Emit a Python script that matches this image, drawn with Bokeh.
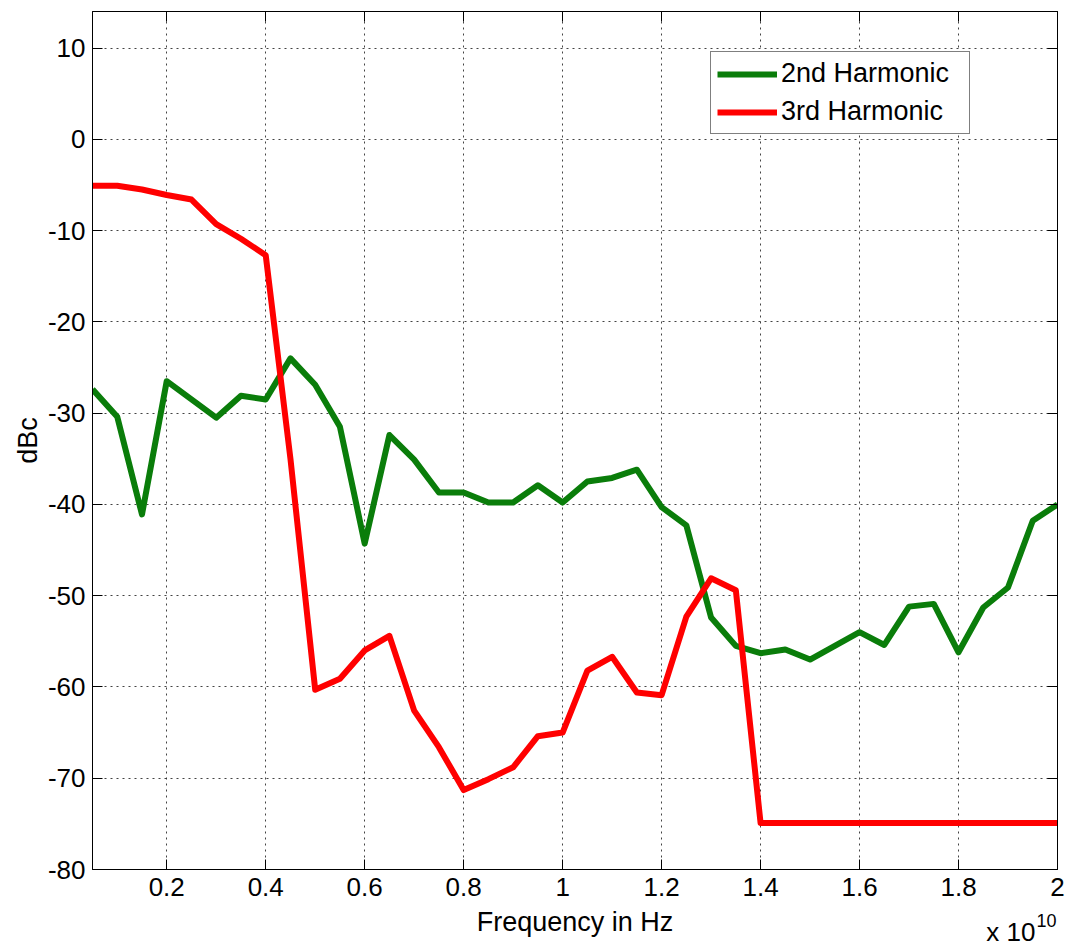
from bokeh.plotting import figure
from bokeh.models import (LinearAxis, FixedTicker, Range1d, Legend, LegendItem,
                          Title, CustomJSTickFormatter)
from bokeh.embed import file_html
from bokeh.resources import INLINE

# Frequency in units of 1e10 Hz
freq = [0.05, 0.10, 0.15, 0.20, 0.25, 0.30, 0.35, 0.40, 0.45, 0.50,
        0.55, 0.60, 0.65, 0.70, 0.75, 0.80, 0.85, 0.90, 0.95, 1.00,
        1.05, 1.10, 1.15, 1.20, 1.25, 1.30, 1.35, 1.40, 1.45, 1.50,
        1.55, 1.60, 1.65, 1.70, 1.75, 1.80, 1.85, 1.90, 1.95, 2.00]

harm2 = [-27.4, -30.4, -41.1, -26.5, -28.5, -30.5, -28.1, -28.5, -24.0, -26.9,
         -31.5, -44.3, -32.4, -35.1, -38.7, -38.7, -39.8, -39.8, -37.9, -39.8,
         -37.5, -37.1, -36.2, -40.3, -42.3, -52.4, -55.5, -56.3, -55.9, -57.0,
         -55.5, -54.0, -55.4, -51.2, -50.9, -56.2, -51.3, -49.1, -41.8, -40.0]

harm3 = [-5.1, -5.1, -5.5, -6.1, -6.6, -9.3, -10.9, -12.7, -35.0, -60.3,
         -59.1, -56.0, -54.4, -62.6, -66.6, -71.3, -70.1, -68.8, -65.4, -65.0,
         -58.2, -56.7, -60.6, -60.9, -52.3, -48.1, -49.4, -74.9, -74.9, -74.9,
         -74.9, -74.9, -74.9, -74.9, -74.9, -74.9, -74.9, -74.9, -74.9, -74.9]

x_ticks = [0.2, 0.4, 0.6, 0.8, 1, 1.2, 1.4, 1.6, 1.8, 2]
y_ticks = [-80, -70, -60, -50, -40, -30, -20, -10, 0, 10]

FONT = "Liberation Sans"

p = figure(width=1069, height=945, output_backend="svg", toolbar_location=None,
           x_range=Range1d(0.05, 2.0), y_range=Range1d(-80, 14),
           min_border_left=92, min_border_right=12, min_border_top=11,
           min_border_bottom=76)
p.background_fill_color = "white"
p.border_fill_color = "white"
p.outline_line_color = "black"
p.outline_line_width = 1

fmt = CustomJSTickFormatter(code="return String(Math.round(tick*10)/10);")

for ax in p.xaxis:
    ax.ticker = FixedTicker(ticks=x_ticks)
    ax.formatter = fmt
    ax.axis_label = "Frequency in Hz"
for ax in p.yaxis:
    ax.ticker = FixedTicker(ticks=y_ticks)
    ax.formatter = fmt
    ax.axis_label = "dBc"

for ax in p.xaxis + p.yaxis:
    ax.major_tick_in = 10
    ax.major_tick_out = 0
    ax.minor_tick_in = 0
    ax.minor_tick_out = 0
    ax.axis_line_color = "black"
    ax.major_tick_line_color = "black"
    ax.major_label_text_font = FONT
    ax.major_label_text_font_size = "26px"
    ax.major_label_text_color = "black"
    ax.axis_label_text_font = FONT
    ax.axis_label_text_font_size = "27px"
    ax.axis_label_text_font_style = "normal"
    ax.axis_label_text_color = "black"

p.xaxis.major_label_standoff = 8
p.xaxis.axis_label_standoff = 8
p.yaxis.major_label_standoff = 7
p.yaxis.axis_label_standoff = 2

# box axes (top / right) with inward ticks, no labels
top = LinearAxis(ticker=FixedTicker(ticks=x_ticks), major_label_text_font_size="0px",
                 major_label_standoff=0, major_tick_in=10, major_tick_out=0,
                 minor_tick_in=0, minor_tick_out=0, axis_line_color="black",
                 major_tick_line_color="black")
right = LinearAxis(ticker=FixedTicker(ticks=y_ticks), major_label_text_font_size="0px",
                   major_label_standoff=0, major_tick_in=10, major_tick_out=0,
                   minor_tick_in=0, minor_tick_out=0, axis_line_color="black",
                   major_tick_line_color="black")
p.add_layout(top, "above")
p.add_layout(right, "right")

for g in (p.xgrid, p.ygrid):
    g.grid_line_color = "#222222"
    g.grid_line_alpha = 0.85
    g.grid_line_dash = "2 4"
    g.grid_line_width = 1
p.xgrid.ticker = FixedTicker(ticks=x_ticks)
p.ygrid.ticker = FixedTicker(ticks=y_ticks)

r2 = p.line(freq, harm2, line_color="#0a7d0a", line_width=6, line_join="round")
r3 = p.line(freq, harm3, line_color="#ff0000", line_width=6, line_join="round")

legend = Legend(items=[LegendItem(label="2nd Harmonic", renderers=[r2]),
                       LegendItem(label="3rd Harmonic", renderers=[r3])],
                location=(618, 735))
legend.label_text_font = FONT
legend.label_text_font_size = "27px"
legend.label_text_color = "black"
legend.glyph_width = 60
legend.glyph_height = 28
legend.label_height = 28
legend.label_width = 182
legend.label_standoff = 4
legend.spacing = 7
legend.padding = 6
legend.margin = 0
legend.border_line_color = "black"
legend.border_line_width = 1
legend.background_fill_color = "white"
legend.background_fill_alpha = 1
p.add_layout(legend, "center")

# exponent note "x 10^10" under the right end of the x axis
t_main = Title(text="x 10", align="right", vertical_align="top", offset=22,
               standoff=-46, text_font=FONT, text_font_size="26px",
               text_font_style="normal", text_color="black")
t_sup = Title(text="10", align="right", vertical_align="top", offset=1,
              standoff=-52, text_font=FONT, text_font_size="18px",
              text_font_style="normal", text_color="black")
p.add_layout(t_main, "below")
p.add_layout(t_sup, "below")

open("out.html", "w").write(file_html(p, INLINE))
